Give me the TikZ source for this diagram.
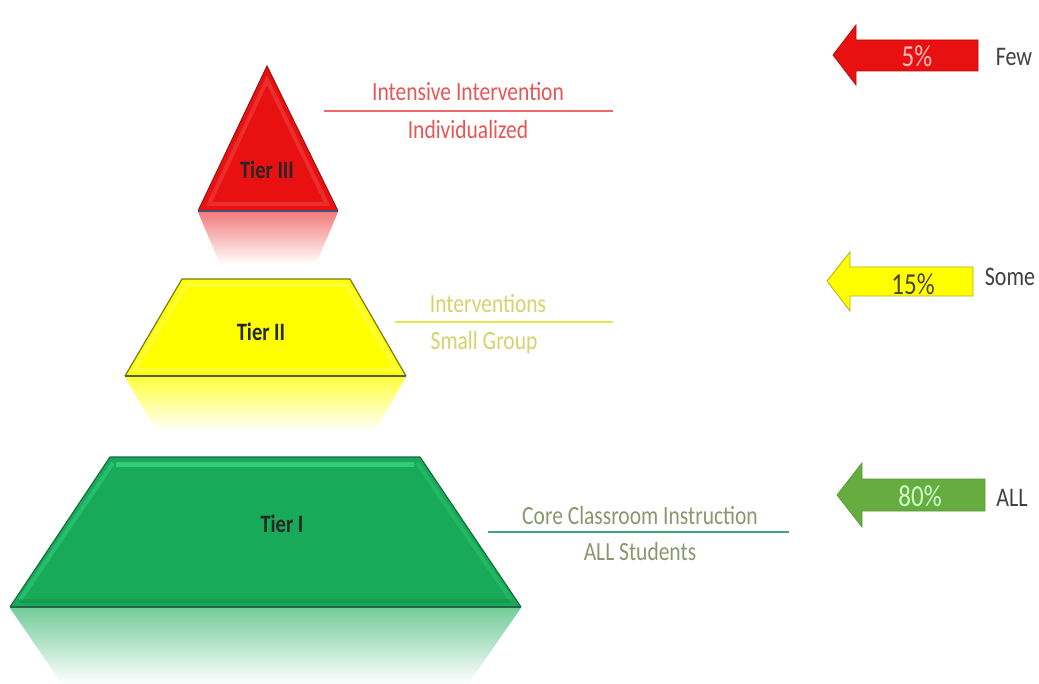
\documentclass[tikz,border=0pt]{standalone}
\usepackage{fontspec}
\setmainfont{Carlito}
\usetikzlibrary{calc}
\newcommand\vstr[1]{\scalebox{1}[1.22]{#1}}
\definecolor{tred}{RGB}{232,16,16}
\definecolor{tredD}{RGB}{150,20,20}
\definecolor{tyel}{RGB}{255,255,0}
\definecolor{tyelD}{RGB}{120,120,40}
\definecolor{tgrn}{RGB}{24,170,88}
\definecolor{tgrnD}{RGB}{20,110,60}
\definecolor{tgrnL}{RGB}{70,225,140}
\definecolor{labred}{RGB}{232,85,85}
\definecolor{linred}{RGB}{236,105,105}
\definecolor{labyel}{RGB}{214,210,110}
\definecolor{linyel}{RGB}{232,230,70}
\definecolor{labgrn}{RGB}{140,150,110}
\definecolor{lingrn}{RGB}{60,168,118}
\definecolor{arrgrn}{RGB}{102,172,62}
\definecolor{basel}{RGB}{70,80,120}
\tikzset{
  tierlabel/.style={font=\fontsize{20.5}{21}\selectfont\bfseries, text=#1},
  sidelabel/.style={font=\fontsize{21.5}{22}\selectfont, text=#1},
  pctlabel/.style={font=\fontsize{25}{25}\selectfont, text=#1},
  wordlabel/.style={font=\fontsize{22}{22}\selectfont, text=black!75},
  uline/.style={draw=#1, line width=2pt},
}
\begin{document}
\begin{tikzpicture}[x=1pt,y=-1pt]
\useasboundingbox (0,0) rectangle (1039,684);
\fill[white] (0,0) rectangle (1039,684);

% ---------- reflections ----------
\shade[top color=tred!55, bottom color=white] (198,212) -- (338,212) -- (316,264) -- (220,264) -- cycle;
\shade[top color=tyel!75, bottom color=white] (125,377) -- (406,377) -- (374,432) -- (157,432) -- cycle;
\shade[top color=tgrn!60, bottom color=white] (10,608) -- (521,608) -- (468,684) -- (62,684) -- cycle;

% ---------- Tier III ----------
\fill[tred] (267,66) -- (338,211) -- (198,211) -- cycle;
\draw[tred!50!white, line width=4pt, opacity=0.25] (267,80) -- (327,204) -- (209,204) -- cycle;
\draw[tredD, line width=1pt] (198,211) -- (267,66) -- (338,211);
\draw[basel, line width=1.2pt] (198,211) -- (338,211);
\node[tierlabel=black!85] (t3) at (267,170) {\vstr{Tier III}};

% ---------- Tier II ----------
\fill[tyel] (182,279) -- (350,279) -- (406,376) -- (125,376) -- cycle;
\draw[yellow!30!white, line width=4pt, opacity=0.3] (186,285) -- (346,285) -- (397,370) -- (134,370) -- cycle;
\draw[tyelD, line width=1.2pt] (125,376) -- (182,279) -- (350,279) -- (406,376);
\draw[basel!70!tyelD, line width=1.2pt] (125,376) -- (406,376);
\node[tierlabel=black!85] (t2) at (261,332) {\vstr{Tier II}};

% ---------- Tier I ----------
\fill[tgrn] (110,457) -- (420,457) -- (521,607) -- (10,607) -- cycle;
\draw[tgrnL, line width=5pt, opacity=0.6] (116,464) -- (414,464);
\draw[tgrnL, line width=4pt, opacity=0.35] (113,463) -- (20,600);
\draw[tgrnL, line width=4pt, opacity=0.25] (417,463) -- (511,600);
\draw[tgrnD!70!tgrn, line width=4pt, opacity=0.35] (20,601) -- (511,601);
\draw[tgrnD, line width=1.2pt] (10,607) -- (110,457) -- (420,457) -- (521,607);
\draw[tgrnD!80!basel, line width=1.2pt] (10,607) -- (521,607);
\node[tierlabel=black!85] (t1) at (282,524) {\vstr{Tier I}};

% ---------- side labels ----------
\node[sidelabel=labred] (r1) at (468,92) {\vstr{Intensive Intervention}};
\node[sidelabel=labred] (r2) at (468,129) {\vstr{Individualized}};
\coordinate (r1a) at (324,111); \coordinate (r1b) at (613,111);
\draw[uline=linred] (r1a) -- (r1b);

\node[sidelabel=labyel] (y1) at (488,304) {\vstr{Interventions}};
\node[sidelabel=labyel] (y2) at (484,343) {\vstr{Small Group}};
\coordinate (y1a) at (395,322); \coordinate (y1b) at (613,322);
\draw[uline=linyel] (y1a) -- (y1b);

\node[sidelabel=labgrn] (g1) at (640,515) {\vstr{Core Classroom Instruction}};
\node[sidelabel=labgrn] (g2) at (640,551) {\vstr{ALL Students}};
\coordinate (g1a) at (488,532); \coordinate (g1b) at (789,532);
\draw[uline=lingrn] (g1a) -- (g1b);

% ---------- arrows ----------
\filldraw[fill=tred, draw=tred!80!black, line width=0.8pt]
  (833,55) -- (856,25) -- (856,40) -- (978,40) -- (978,71) -- (856,71) -- (856,85) -- cycle;
\node[pctlabel={red!25!white}] (p5) at (917,56) {\vstr{5\%}};
\node[wordlabel] (w5) at (1014,57) {\vstr{Few}};

\filldraw[fill=tyel, draw=tyelD!60!tyel, line width=0.8pt]
  (827,281) -- (850,252) -- (850,267) -- (973,267) -- (973,296) -- (850,296) -- (850,311) -- cycle;
\node[pctlabel={black!40!olive!60!black}] (p15) at (913,284) {\vstr{15\%}};
\node[wordlabel] (w15) at (1010,277) {\vstr{Some}};

\filldraw[fill=arrgrn, draw=arrgrn!90!black, line width=0.8pt]
  (837,495) -- (862,463) -- (862,479) -- (985,479) -- (985,511) -- (862,511) -- (862,527) -- cycle;
\node[pctlabel={green!20!white}] (p80) at (920,496) {\vstr{80\%}};
\node[wordlabel] (w80) at (1012,498) {\vstr{ALL}};
\end{tikzpicture}
\end{document}
